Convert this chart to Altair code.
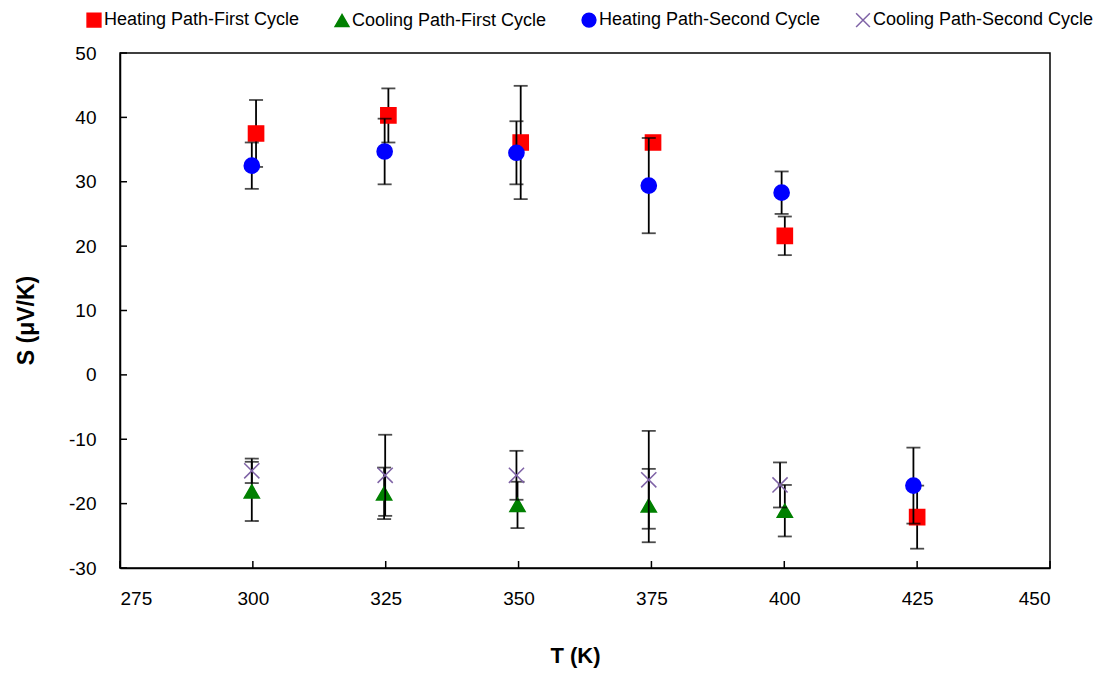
import altair as alt
import pandas as pd

series_names = ["Heating Path-First Cycle", "Cooling Path-First Cycle",
                "Heating Path-Second Cycle", "Cooling Path-Second Cycle"]
series_colors = ["#FF0000", "#008000", "#0000FF", "#7F63A6"]
series_shapes = ["square", "triangle-up", "circle", "M-1,-1L1,1M-1,1L1,-1"]

heat1_T = [300.6, 325.5, 350.4, 375.3, 400.1, 425.0]
heat1_S = [37.5, 40.3, 36.1, 36.1, 21.6, -22.1]
heat1_E = [5.2, 4.2, 8.8, 0.6, 3.0, 4.9]

cool1_T = [299.8, 324.7, 349.8, 374.5, 400.1]
cool1_S = [-18.1, -18.4, -20.2, -20.3, -21.1]
cool1_E = [4.6, 4.0, 3.6, 5.7, 4.0]

heat2_T = [299.8, 324.8, 349.6, 374.5, 399.5, 424.3]
heat2_S = [32.5, 34.7, 34.5, 29.4, 28.3, -17.2]
heat2_E = [3.6, 5.1, 4.9, 7.4, 3.3, 5.9]

cool2_T = [299.8, 324.9, 349.6, 374.5, 399.2]
cool2_S = [-14.9, -15.6, -15.6, -16.3, -17.1]
cool2_E = [1.9, 6.3, 3.8, 7.6, 3.5]

x_ticks = [275, 300, 325, 350, 375, 400, 425, 450]
y_ticks = [-30, -20, -10, 0, 10, 20, 30, 40, 50]

all_T = [heat1_T, cool1_T, heat2_T, cool2_T]
all_S = [heat1_S, cool1_S, heat2_S, cool2_S]
all_E = [heat1_E, cool1_E, heat2_E, cool2_E]

FONT = "Liberation Sans, Arial, sans-serif"

xscale = alt.Scale(domain=[275, 450], nice=False, zero=False)
yscale = alt.Scale(domain=[-30, 50], nice=False, zero=False)

xaxis = alt.Axis(title="T (K)", values=x_ticks, ticks=False, grid=False,
                 domainColor="black", domainWidth=1.5,
                 labelFont=FONT, labelFontSize=19, labelColor="black",
                 labelPadding=21, labelExpr="'' + datum.value",
                 titleFont=FONT, titleFontSize=22, titleFontWeight="bold",
                 titleColor="black", titleX=455, titleY=94,
                 titleBaseline="alphabetic")
yaxis = alt.Axis(title="S (μV/K)", values=y_ticks, ticks=False, grid=False,
                 domainColor="black", domainWidth=1.5,
                 labelFont=FONT, labelFontSize=19, labelColor="black",
                 labelPadding=24, labelExpr="'' + datum.value",
                 titleFont=FONT, titleFontSize=23, titleFontWeight="bold",
                 titleColor="black", titleX=-87, titleY=267,
                 titleAngle=270, titleAlign="center",
                 titleBaseline="alphabetic")

legend = alt.Legend(title=None, orient="none", direction="horizontal",
                    columns=4, legendX=-35, legendY=-42, padding=0,
                    labelFont=FONT, labelFontSize=18, labelColor="black",
                    labelLimit=400,
                    symbolSize=190, symbolStrokeWidth=1.5, labelOffset=1,
                    columnPadding=32)


def X(field):
    return alt.X(field, type="quantitative", scale=xscale, axis=xaxis)


def Y(field):
    return alt.Y(field, type="quantitative", scale=yscale, axis=yaxis)


layers = []

xt = pd.DataFrame({"v": x_ticks})
yt = pd.DataFrame({"v": y_ticks})
layers.append(alt.Chart(xt).mark_rule(color="black", strokeWidth=1.5).encode(
    x=X("v"), y=alt.value(515), y2=alt.value(508)))
layers.append(alt.Chart(yt).mark_rule(color="black", strokeWidth=1.5).encode(
    y=Y("v"), x=alt.value(0), x2=alt.value(7)))

for name, T, S, E in zip(series_names, all_T, all_S, all_E):
    df = pd.DataFrame({
        "series": name,
        "T": T,
        "S": S,
        "lo": [s - e for s, e in zip(S, E)],
        "hi": [s + e for s, e in zip(S, E)],
    })
    base = alt.Chart(df)
    layers.append(base.mark_rule(color="black", strokeWidth=1.8).encode(
        x=X("T"), y=Y("lo"), y2="hi:Q"))
    layers.append(base.mark_tick(color="black", thickness=1.8, size=14,
                                 orient="horizontal").encode(x=X("T"), y=Y("hi")))
    layers.append(base.mark_tick(color="black", thickness=1.8, size=14,
                                 orient="horizontal").encode(x=X("T"), y=Y("lo")))
    layers.append(base.mark_point(filled=True, opacity=1, size=230,
                                  strokeWidth=1.5).encode(
        x=X("T"), y=Y("S"),
        color=alt.Color("series:N", scale=alt.Scale(domain=series_names, range=series_colors), legend=legend),
        stroke=alt.Stroke("series:N", scale=alt.Scale(domain=series_names, range=series_colors), legend=legend),
        shape=alt.Shape("series:N", scale=alt.Scale(domain=series_names, range=series_shapes), legend=legend),
    ))

chart = alt.layer(*layers).properties(
    width=930, height=515, autosize="none",
    padding={"left": 120, "top": 53, "right": 57, "bottom": 106},
    background="white",
).configure_view(stroke="black", strokeWidth=1.5)

chart.save("out.html", embed_options={"renderer": "svg", "actions": False})
